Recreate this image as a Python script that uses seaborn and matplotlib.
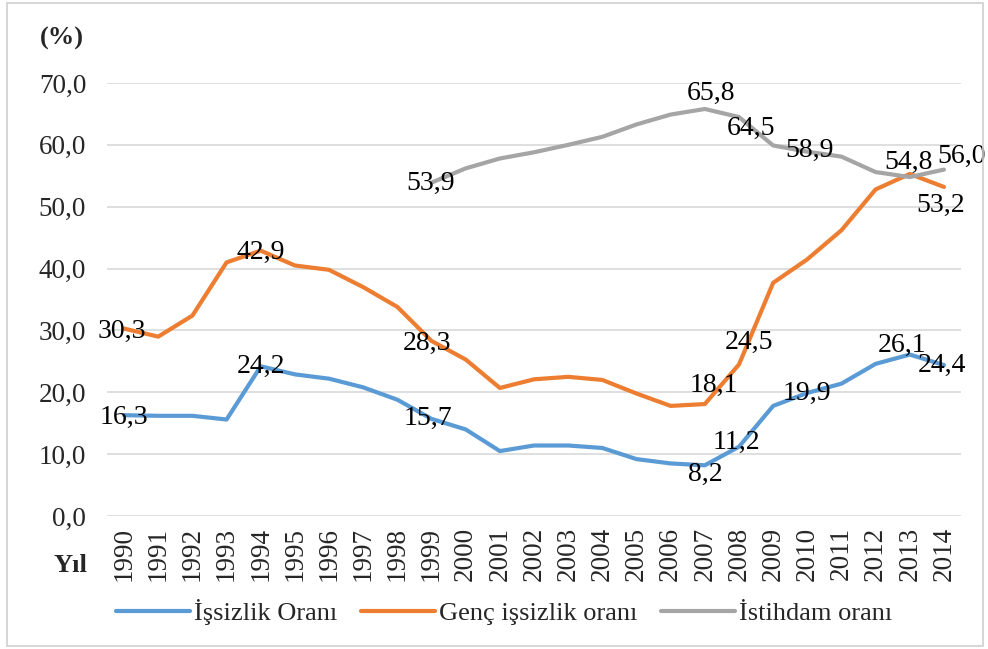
import matplotlib
matplotlib.use("Agg")
import matplotlib.pyplot as plt
import numpy as np
import pandas as pd
import seaborn as sns
from matplotlib.patches import Rectangle
from matplotlib.lines import Line2D
from matplotlib.ticker import FuncFormatter

years = list(range(1990, 2015))

issizlik = [16.3, 16.2, 16.2, 15.6, 24.2, 22.9, 22.2, 20.8, 18.8, 15.7, 14.0, 10.5, 11.4,
            11.4, 11.0, 9.2, 8.5, 8.2, 11.2, 17.8, 19.9, 21.4, 24.6, 26.1, 24.4]
genc = [30.3, 29.0, 32.4, 41.0, 42.9, 40.5, 39.8, 37.0, 33.8, 28.3, 25.3, 20.7, 22.1,
        22.5, 22.0, 19.8, 17.8, 18.1, 24.5, 37.7, 41.5, 46.2, 52.8, 55.3, 53.2]
istihdam = [np.nan] * 9 + [53.9, 56.2, 57.8, 58.8, 60.0, 61.3, 63.3, 64.9, 65.8, 64.5,
                           59.9, 58.9, 58.1, 55.6, 54.8, 56.0]

series_names = ["İşsizlik Oranı", "Genç işsizlik oranı", "İstihdam oranı"]
colors = ["#5B9BD5", "#ED7D31", "#A5A5A5"]

# which points get a value label, with pixel offsets for placement
labels = {
    "İşsizlik Oranı": {1990: (0, -2), 1994: (0, 0), 1999: (-4, 0), 2007: (0, -9),
                       2008: (-3, 4), 2010: (0, 0), 2013: (-8, 9), 2014: (-2, 0)},
    "Genç işsizlik oranı": {1990: (-2, -3), 1994: (0, -2), 1999: (-5, -2), 2007: (9, 19),
                            2008: (10, 22), 2014: (-3, -18)},
    "İstihdam oranı": {1999: (-1, -1), 2007: (6, 16), 2008: (12, -11), 2010: (2, 1),
                       2013: (-1, 15), 2014: (18, 13)},
}

df = pd.DataFrame({
    "year": years * 3,
    "value": issizlik + genc + istihdam,
    "series": sum([[n] * len(years) for n in series_names], []),
}).dropna()

sns.set_theme(style="white")
plt.rcParams["font.family"] = ["Liberation Serif", "DejaVu Serif"]

fig = plt.figure(figsize=(9.88, 6.49), dpi=100)
ax = fig.add_axes([0.1083, 0.2049, 0.8644, 0.6672])

sns.lineplot(data=df, x="year", y="value", hue="series", hue_order=series_names,
             palette=colors, linewidth=3, ax=ax, legend=False, sort=True)

for name in series_names:
    sub = df[df["series"] == name].set_index("year")["value"]
    for yr, (dx, dy) in labels[name].items():
        val = sub[yr]
        ax.annotate(f"{val:.1f}".replace(".", ","), (yr, val), xytext=(dx, dy),
                    textcoords="offset pixels", ha="center", va="center",
                    fontsize=20, color="black")

ax.set_xlim(1989.5, 2014.5)
ax.set_ylim(0, 70)
ax.set_yticks(np.arange(0, 71, 10))
ax.yaxis.set_major_formatter(FuncFormatter(lambda v, p: f"{v:.1f}".replace(".", ",")))
ax.set_xticks(years)
ax.set_xticklabels([str(y) for y in years], rotation=90)
ax.tick_params(axis="y", labelsize=19.5, length=0, pad=15)
ax.tick_params(axis="x", labelsize=19.5, length=0, pad=8)
ax.grid(axis="y", color="#d9d9d9", linewidth=1.2)
ax.set_axisbelow(True)
for s in ax.spines.values():
    s.set_visible(False)
ax.set_xlabel("")
ax.set_ylabel("")

fig.text(0.063, 0.941, "(%)", fontsize=19, fontweight="bold", ha="center", va="center")
fig.text(0.071, 0.129, "Yıl", fontsize=19, fontweight="bold", ha="center", va="center")

handles = [Line2D([0], [0], color=c, lw=3) for c in colors]
fig.legend(handles, series_names, loc="center", bbox_to_anchor=(0.51, 0.057), ncol=3,
           frameon=False, fontsize=19, handlelength=2.8, handletextpad=0.15, columnspacing=0.9)

fig.patches.append(Rectangle((0.007, 0.005), 0.988, 0.99, transform=fig.transFigure,
                             fill=False, edgecolor="#cfcfcf", linewidth=1.2))

fig.savefig("out.png", dpi=100)
